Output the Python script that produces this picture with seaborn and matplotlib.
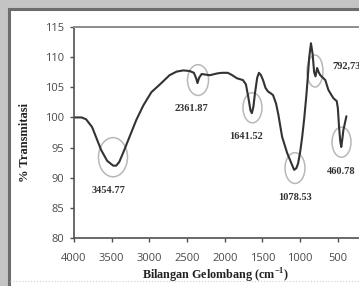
import matplotlib
matplotlib.use("Agg")
import matplotlib.pyplot as plt
from matplotlib.patches import Ellipse, Rectangle
import pandas as pd
import seaborn as sns

# FTIR spectrum
wavenumber = [4000, 3900, 3840, 3760, 3700, 3640, 3560, 3480, 3440, 3400, 3333, 3250,
              3173, 3080, 2973, 2867, 2733, 2640, 2550, 2467, 2410, 2380, 2362, 2340,
              2307, 2200, 2100, 2040, 1960, 1900, 1840, 1760, 1720, 1690, 1660, 1641,
              1620, 1600, 1570, 1547, 1520, 1493, 1460, 1427, 1390, 1360, 1320, 1290,
              1240, 1173, 1107, 1080, 1050, 1027, 1000, 973, 945, 920, 900, 880, 857,
              835, 815, 797, 775, 755, 733, 700, 667, 627, 590, 560, 515, 500, 485,
              468, 455, 440, 427, 387]
transmit = [100.0, 100.0, 99.7, 98.4, 96.5, 94.6, 92.8, 92.0, 92.0, 92.6, 94.6, 97.2,
            99.6, 102.0, 104.2, 105.4, 107.0, 107.6, 107.8, 107.7, 107.4, 106.5, 105.7, 106.6,
            107.2, 107.0, 107.3, 107.4, 107.4, 107.0, 106.5, 106.2, 105.5, 103.5, 101.2, 100.7,
            101.8, 104.0, 106.6, 107.4, 107.0, 106.2, 104.9, 104.3, 104.0, 103.7, 102.3, 100.5,
            96.8, 94.1, 92.1, 91.3, 91.6, 92.4, 94.3, 96.8, 100.0, 103.4, 106.5, 110.0, 112.3,
            110.5, 107.5, 106.8, 108.2, 107.5, 107.0, 106.6, 106.2, 104.6, 103.8, 103.2, 102.7, 101.5, 98.5,
            96.0, 95.1, 96.5, 97.9, 100.2]

# marked bands: label, ellipse centre (wn, %T), ellipse size, label position
peak_labels = ['3454.77', '2361.87', '1641.52', '1078.53', '460.78', '792,73']
ell_x = [3483, 2355, 1633, 1069, 452, 804]
ell_y = [93.4, 106.2, 101.6, 91.6, 95.9, 107.7]
ell_w = [385, 279, 252, 265, 252, 212]
ell_h = [6.5, 5.1, 5.0, 5.1, 5.0, 5.3]
lab_x = [3536, 2435, 1719, 1069, 459, 578]
lab_y = [87.8, 101.5, 96.8, 86.8, 91.1, 108.4]
lab_ha = ['center', 'center', 'center', 'center', 'center', 'left']

df = pd.DataFrame({'wn': wavenumber, 'T': transmit})

sns.set_style('ticks')
plt.rcParams['font.family'] = ['Open Sans', 'DejaVu Sans']
plt.rcParams['mathtext.fontset'] = 'custom'
plt.rcParams['mathtext.rm'] = 'Liberation Serif:bold'
plt.rcParams['mathtext.bf'] = 'Liberation Serif:bold'

fig = plt.figure(figsize=(3.59, 2.86), dpi=100)
fig.patch.set_facecolor('#c4c4c4')
fig.patches.append(Rectangle((8.5 / 359, -0.1), 1.2, (286 - 8.5) / 286 + 0.1,
                             transform=fig.transFigure, facecolor='white',
                             edgecolor='#6c6c6c', lw=2.2, zorder=-10))
fig.lines.append(plt.Line2D([10 / 359, 1], [1 - 281 / 286] * 2, transform=fig.transFigure,
                            color='#d0d0d0', lw=0.8, ls=':', zorder=-5))

ax = fig.add_axes([74 / 359, 48 / 286, 286.5 / 359, 211 / 286])
ax.set_facecolor('none')
sns.lineplot(data=df, x='wn', y='T', sort=False, color='#333333', lw=1.5, ax=ax)

for i, lab in enumerate(peak_labels):
    ax.add_patch(Ellipse((ell_x[i], ell_y[i]), ell_w[i], ell_h[i], fill=False,
                         edgecolor='#b8b8b8', lw=1.1))
    ax.text(lab_x[i], lab_y[i], lab, ha=lab_ha[i], va='center', fontsize=7.5,
            fontweight='bold', family='Liberation Serif', color='#333333')

ax.set_xlim(4000, 200)
ax.set_ylim(80, 115)
ax.set_xticks([4000, 3500, 3000, 2500, 2000, 1500, 1000, 500])
ax.set_yticks(range(80, 116, 5))
ax.tick_params(axis='both', labelsize=8, colors='#505050', labelcolor='#4a4a4a',
               length=3, width=1)
ax.tick_params(axis='x', pad=8)
ax.tick_params(axis='y', pad=4)

for s in ['left', 'bottom']:
    ax.spines[s].set_color('#505050')
    ax.spines[s].set_linewidth(1.2)
ax.spines['top'].set_color('#8c8c8c')
ax.spines['top'].set_linewidth(1.4)
ax.spines['right'].set_visible(False)

ax.set_xlabel('Bilangan Gelombang (cm$^{\\mathbf{-1}}$)', fontsize=8.7, fontweight='bold',
              family='Liberation Serif', color='#222222')
ax.set_ylabel('% Transmitasi', fontsize=9, fontweight='bold',
              family='Liberation Serif', color='#222222')
ax.xaxis.set_label_coords(0.4956, -0.135)
ax.yaxis.set_label_coords(-0.150, 0.4526)

fig.savefig('out.png', dpi=100, facecolor=fig.get_facecolor())
